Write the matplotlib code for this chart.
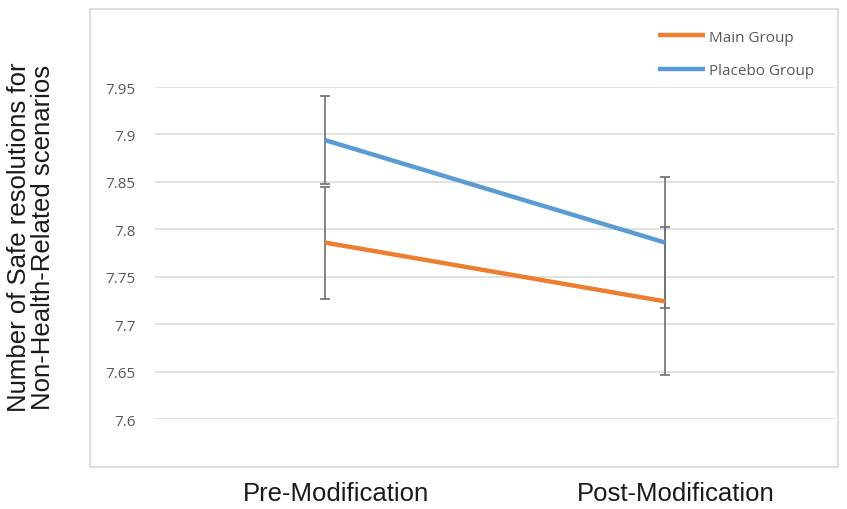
import numpy as np
from matplotlib import pyplot as plt
from matplotlib.patches import Rectangle
from matplotlib.transforms import ScaledTranslation

# values
phases = ["Pre-Modification", "Post-Modification"]
main_group = [7.786, 7.724]
placebo_group = [7.894, 7.786]
main_err = [0.059, 0.078]
placebo_err = [0.046, 0.069]
y_ticks = [7.6, 7.65, 7.7, 7.75, 7.8, 7.85, 7.9, 7.95]
y_tick_labels = ["7.6", "7.65", "7.7", "7.75", "7.8", "7.85", "7.9", "7.95"]

W, H = 847, 510
fig = plt.figure(figsize=(W / 100, H / 100), dpi=100)

# outer chart frame
fig.patches.append(Rectangle((90 / W, 1 - 468 / H), (838 - 90) / W, (468 - 10) / H,
                             transform=fig.transFigure, fill=False,
                             edgecolor="#d9d9d9", linewidth=1.2))

ax = fig.add_axes([155 / W, 1 - 420 / H, 680 / W, 332 / H])
x = np.arange(len(phases))

ax.errorbar(x, main_group, yerr=main_err, fmt="none", ecolor="#6f6f6f",
            elinewidth=1.2, capsize=3.6, capthick=1.2, zorder=2)
ax.errorbar(x, placebo_group, yerr=placebo_err, fmt="none", ecolor="#6f6f6f",
            elinewidth=1.2, capsize=3.6, capthick=1.2, zorder=2)
ax.plot(x, main_group, color="#ED7D31", linewidth=3.2, label="Main Group",
        solid_capstyle="butt", zorder=3)
ax.plot(x, placebo_group, color="#5B9BD5", linewidth=3.2, label="Placebo Group",
        solid_capstyle="butt", zorder=3)

ax.set_xlim(-0.5, 1.5)
ax.set_ylim(7.6, 7.95)
ax.set_yticks(y_ticks)
ax.set_yticklabels(y_tick_labels, family="Open Sans")
ax.set_xticks(x)
ax.set_xticklabels(phases, fontsize=18.5, color="#1a1a1a", family="Liberation Sans")
ax.tick_params(axis="x", length=0, pad=45)
ax.tick_params(axis="y", length=0, pad=14, labelsize=11, labelcolor="#595959")
ax.grid(axis="y", color="#d9d9d9", linewidth=1.1)
ax.set_axisbelow(True)
for s in ax.spines.values():
    s.set_visible(False)

# category labels sit a little right of the points
shift = ScaledTranslation(11 / 100, 0, fig.dpi_scale_trans)
for lab in ax.get_xticklabels():
    lab.set_transform(lab.get_transform() + shift)

fig.text(31 / W, 1 - 237 / H,
         "Number of Safe resolutions for\nNon-Health-Related scenarios",
         rotation=90, ha="center", va="center", multialignment="center",
         fontsize=18.5, color="#1a1a1a", linespacing=0.95, family="Liberation Sans")

fig.legend(loc="upper left", bbox_to_anchor=(644 / W, 1 - 17 / H),
           frameon=False, prop={"family": "Open Sans", "size": 11},
           handlelength=3.1, handletextpad=0.25,
           labelspacing=1.2, labelcolor="#595959")

fig.savefig("out.png", dpi=100)
